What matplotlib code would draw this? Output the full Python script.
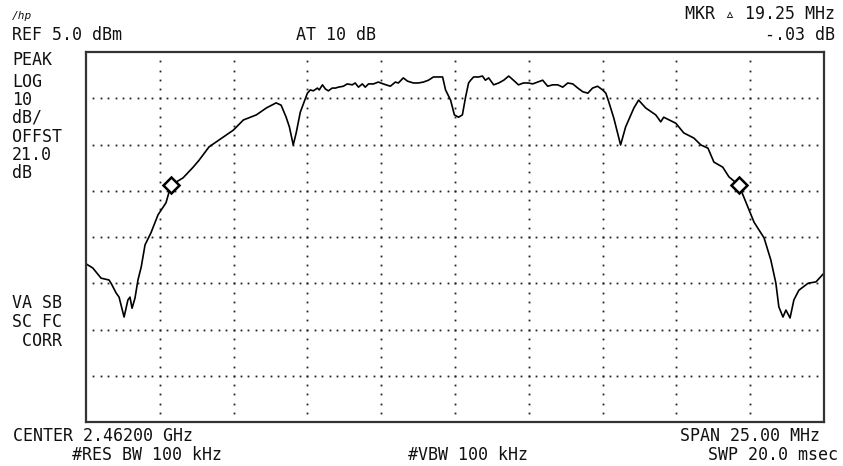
import numpy as np
import matplotlib
matplotlib.use("Agg")
import matplotlib.pyplot as plt

# spectrum trace, offset from centre (MHz) and level (dBm)
freq_mhz = [-12.50, -12.27, -11.99, -11.72, -11.65, -11.48, -11.38, -11.21, -11.08,
            -11.01, -10.94, -10.84, -10.74, -10.63, -10.50, -10.30, -10.06, -9.79,
            -9.62, -9.21, -8.87, -8.67, -8.33, -7.99, -7.51, -7.17, -6.73, -6.39,
            -6.06, -5.89, -5.72, -5.61, -5.48, -5.38,
            -5.24, -5.00, -4.90, -4.80, -4.66, -4.60, -4.49, -4.39, -4.29, -4.16,
            -4.05, -3.95, -3.78, -3.65, -3.48, -3.38, -3.27, -3.14, -3.04, -2.93,
            -2.76, -2.60, -2.43, -2.19, -2.02, -1.92, -1.75, -1.61, -1.41, -1.24,
            -1.07, -0.90, -0.73, -0.42, -0.32, -0.15, -0.02, 0.12, 0.25, 0.36,
            0.46, 0.53, 0.63, 0.80, 0.93, 1.03, 1.14, 1.31, 1.48, 1.65,
            1.82, 1.98, 2.15, 2.32, 2.49, 2.63, 2.80, 2.97, 3.14, 3.31,
            3.48, 3.65, 3.82, 3.99, 4.16, 4.33, 4.50, 4.66, 4.83, 5.00,
            5.11, 5.21, 5.38,
            5.61, 5.78, 6.06, 6.22, 6.46, 6.80, 6.97,
            7.07, 7.48, 7.75, 8.09, 8.33, 8.57, 8.77, 9.07, 9.28, 9.62,
            9.92, 10.13, 10.47, 10.70, 10.87, 10.97, 11.11, 11.21, 11.35, 11.48,
            11.65, 11.96, 12.23, 12.50]
level_dbm = [-40.8, -41.7, -43.9, -44.3, -45.0, -47.1, -48.0, -52.3, -48.6,
             -48.0, -50.4, -48.2, -44.3, -41.5, -36.7, -34.1, -30.2, -27.6,
             -23.8, -22.2, -19.9, -18.4, -15.5, -14.0, -11.9, -9.7, -8.6, -7.1,
             -6.0, -6.5, -9.1, -11.2, -15.1, -12.5,
             -8.0, -3.9, -3.2, -3.4, -2.8, -3.2, -2.1, -3.0, -3.4, -2.8,
             -2.8, -2.6, -2.4, -1.9, -2.1, -1.7, -2.6, -1.9, -2.6, -1.9,
             -1.9, -1.5, -1.9, -2.4, -1.5, -1.7, -0.6, -1.3, -1.7, -1.7,
             -1.5, -1.1, -0.4, -0.4, -3.2, -5.4, -8.6, -9.1, -8.6, -4.7,
             -1.7, -1.1, -0.4, -0.4, -0.2, -1.1, -0.6, -2.1, -1.7, -1.1,
             -0.2, -1.1, -2.1, -1.7, -1.7, -1.9, -1.5, -1.1, -2.4, -2.1,
             -2.1, -2.6, -1.7, -1.9, -2.8, -3.6, -3.9, -2.8, -2.4, -3.2,
             -3.9, -5.8, -9.3,
             -15.1, -11.2, -7.1, -5.4, -7.1, -8.6, -10.1,
             -9.1, -10.4, -12.5, -13.6, -15.1, -15.8, -18.8, -19.9, -22.0, -23.8,
             -28.5, -31.8, -35.2, -40.0, -45.0, -50.1, -52.3, -50.8, -52.5, -48.6,
             -46.5, -45.0, -44.7, -42.8]

marker_freqs = [-9.62, 9.62]
marker_levels = [-23.8, -23.8]

W, H = 843, 466
fig = plt.figure(figsize=(W / 100, H / 100), dpi=100)
ax = fig.add_axes([86 / W, 1 - 422 / H, (824 - 86) / W, (422 - 52) / H])
ax.set_xlim(-12.5, 12.5)
ax.set_ylim(-75, 5)
ax.set_xticks([])
ax.set_yticks([])
for s in ax.spines.values():
    s.set_linewidth(1.6)
    s.set_color('#333333')

# dotted graticule: 10 x 8 divisions
hx = np.linspace(-12.5, 12.5, 101)[1:-1]
for yl in np.arange(-65, 5, 10):
    ax.plot(hx, np.full(hx.size, yl), ls='none', marker='s', ms=1.3,
            mew=0, color='#222222')
vy = np.linspace(-75, 5, 41)[1:-1]
for xl in np.arange(-10, 12.5, 2.5):
    ax.plot(np.full(vy.size, xl), vy, ls='none', marker='s', ms=1.3,
            mew=0, color='#222222')

ax.plot(freq_mhz, level_dbm, color='black', lw=1.2)
ax.plot(marker_freqs, marker_levels, ls='none', marker='D', ms=8,
        mfc='white', mec='black', mew=1.8)

mono = ['DejaVu Sans Mono', 'DejaVu Sans']
fs = 12


def put(x, y, s, ha='left', size=fs, **kw):
    fig.text(x / W, 1 - y / H, s, ha=ha, va='baseline', family=mono,
             fontsize=size, color='#111111', **kw)


put(12, 19, '/hp', size=8, style='italic')
put(12, 40, 'REF 5.0 dBm')
put(336, 40, 'AT 10 dB', ha='center')
put(835, 19, 'MKR \u25b5 19.25 MHz', ha='right')
put(835, 40, '-.03 dB', ha='right')

for txt, yb in [('PEAK', 65), ('LOG', 87), ('10', 105), ('dB/', 123),
                ('OFFST', 142), ('21.0', 160), ('dB', 178),
                ('VA SB', 308), ('SC FC', 327), (' CORR', 346)]:
    put(12, yb, txt)

put(13, 441, 'CENTER 2.46200 GHz')
put(72, 460, '#RES BW 100 kHz')
put(468, 460, '#VBW 100 kHz', ha='center')
put(820, 441, 'SPAN 25.00 MHz', ha='right')
put(838, 460, 'SWP 20.0 msec', ha='right')

fig.savefig('out.png', dpi=100)
